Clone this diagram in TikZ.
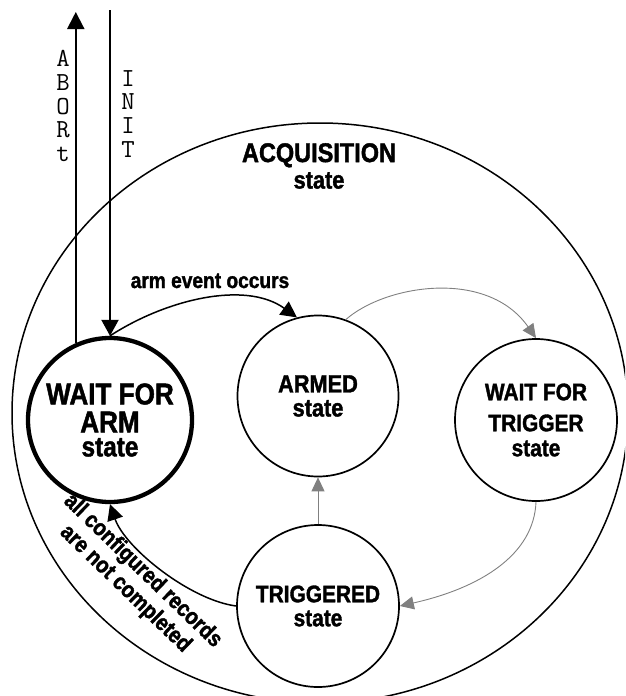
\documentclass[tikz,border=0pt]{standalone}
\usepackage{fontspec}
\newfontfamily\cond{Liberation Sans}[FakeStretch=0.87,BoldFeatures={FakeBold=1.5}]
\usetikzlibrary{arrows.meta}
\definecolor{grayarrow}{RGB}{128,128,128}
\begin{document}
\begin{tikzpicture}[x=1pt,y=-1pt,
  stnode/.style={circle,draw,line width=1.7pt,minimum size=162pt,inner sep=0pt,align=center,font=\cond\bfseries\fontsize{24}{24}\selectfont},
  blk/.style={line width=1.5pt,-{Triangle[length=16pt,width=16pt]}},
  gry/.style={draw=grayarrow,line width=0.9pt,-{Triangle[length=14pt,width=13pt]},color=grayarrow},
  lbl/.style={font=\cond\bfseries\fontsize{22}{25}\selectfont,inner sep=0pt,align=center},
  monolbl/.style={font=\ttfamily\fontsize{26}{23.8}\selectfont,inner sep=0pt,align=center,anchor=north}]
\clip (0,0) rectangle (625,696);
\draw[line width=1.5pt] (320,413) ellipse [x radius=308, y radius=290];
% states
\node[stnode, line width=4.3pt, minimum size=164pt, font=\cond\bfseries\fontsize{30}{28}\selectfont] (wfa) at (110,420) {WAIT FOR\\ARM\\[-4pt]{\fontsize{28}{28}\selectfont state}};
\node[stnode, minimum size=161pt, font=\cond\bfseries\fontsize{25}{24}\selectfont] (armed) at (318,396) {ARMED\\state};
\node[stnode] (wft) at (536,420) {WAIT FOR\\[7pt]TRIGGER\\[1pt]state};
\node[stnode] (trig) at (318,606) {TRIGGERED\\state};
% labels
\node[lbl, font=\cond\bfseries\fontsize{27}{26.5}\selectfont, anchor=north] (acq) at (319,143) {ACQUISITION\\{\fontsize{25}{26.5}\selectfont state}};
\node[lbl, anchor=base] (armlbl) at (210,288) {arm event occurs};
\node[lbl, font=\cond\bfseries\fontsize{23}{25}\selectfont, rotate=-44] (acr) at (134,580) {all configured records\\are not completed};
\node[monolbl] (abortlbl) at (63,50) {A\\B\\O\\R\\t};
\node[monolbl] (initlbl) at (128,70) {I\\N\\I\\T};
% coordinates
\coordinate (abtop) at (77,12);
\coordinate (inittop) at (110,10);
% connectors
\draw[line width=2pt,-{Triangle[length=17pt,width=17pt]}] (wfa.114) -- (wfa.114 |- abtop);
\draw[line width=2pt,-{Triangle[length=16pt,width=17pt]}] (inittop) -- (wfa.north);
\draw[blk] (wfa.north) .. controls (165,300) and (245,280) .. (armed.105);
\draw[gry] (armed.70) .. controls (385,285) and (487,268) .. (wft.north);
\draw[gry] (wft.south) .. controls (534,555) and (480,588) .. (trig.east);
\draw[gry] (trig.north) -- (armed.south);
\draw[blk] (trig.west) .. controls (190,600) and (125,548) .. (wfa.south);
\end{tikzpicture}
\end{document}
